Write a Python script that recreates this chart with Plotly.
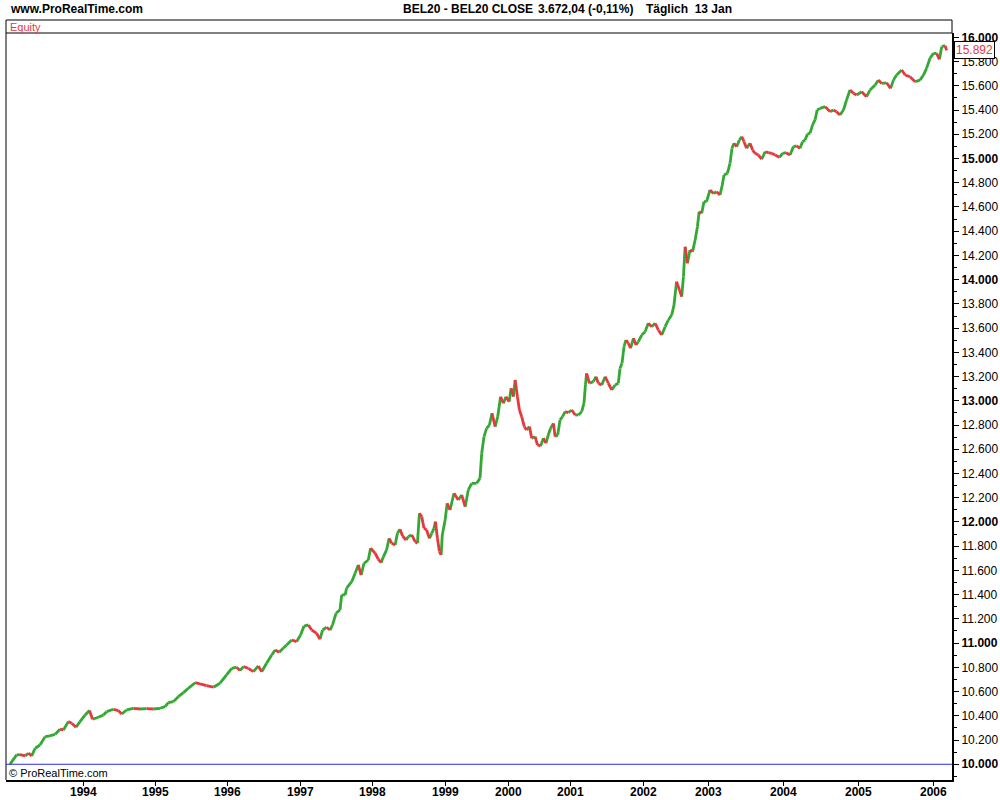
import plotly.graph_objects as go

# -----------------------------
# Daten: Equity-Kurve (Handelstag-Nr. seit Start, Kontostand)
# -----------------------------
handelstag = [
    0, 23, 35, 53, 64, 76, 88, 105, 123, 140, 158, 175, 187, 204, 216, 231, 245, 263, 278, 289,
    309, 327, 338, 362, 379, 391, 408, 432, 455, 478, 502, 525, 543, 554, 572, 589, 607, 624, 648, 665,
    688, 712, 735, 758, 776, 793, 805, 817, 834, 852, 869, 881, 898, 916, 928, 942, 957, 968, 986, 1003,
    1017, 1029, 1044, 1056, 1073, 1085, 1094, 1108, 1120, 1129, 1141, 1155, 1161, 1173, 1178, 1196, 1208, 1219, 1229, 1239,
    1254, 1262, 1278, 1289, 1299, 1307, 1318, 1327, 1336, 1348, 1356, 1365, 1374, 1386, 1394, 1406, 1418, 1426, 1433, 1441,
    1449, 1458, 1468, 1476, 1484, 1489, 1496, 1503, 1509, 1513, 1523, 1530, 1540, 1554, 1569, 1581, 1593, 1604, 1616, 1633,
    1645, 1651, 1659, 1668, 1678, 1687, 1698, 1707, 1717, 1727, 1736, 1747, 1754, 1762, 1768, 1776, 1783, 1791, 1800, 1808,
    1818, 1826, 1838, 1846, 1857, 1867, 1876, 1884, 1892, 1902, 1908, 1917, 1925, 1934, 1943, 1954, 1966, 1978, 1989, 2001,
    2009, 2014, 2018, 2028, 2042, 2051, 2059, 2071, 2083, 2094, 2106, 2118, 2129, 2135, 2142, 2149, 2156, 2164, 2172, 2182,
    2191, 2199, 2211, 2223, 2234, 2246, 2258, 2269, 2281, 2293, 2304, 2316, 2324, 2333, 2343, 2351, 2357, 2363, 2371, 2380,
    2389, 2398, 2406, 2412, 2421, 2429, 2438, 2450, 2462, 2473, 2485, 2493, 2499, 2511, 2520, 2527, 2534, 2543, 2553, 2561,
    2569, 2578, 2590, 2599, 2608, 2619, 2631, 2643, 2654, 2666, 2678, 2693, 2704, 2716, 2730, 2742, 2753, 2765, 2774, 2783,
    2791, 2800, 2809, 2818, 2825, 2835, 2853, 2870, 2882, 2893, 2905, 2917, 2928, 2940, 2952, 2963, 2981, 2998, 3010, 3028,
    3039, 3051, 3068, 3082, 3092, 3103, 3121, 3133, 3150, 3168, 3185, 3197, 3208, 3220, 3232, 3243, 3253, 3261, 3273, 3278,
]
equity = [
    10000, 10077, 10080, 10069, 10091, 10069, 10132, 10159, 10228, 10234, 10248, 10289, 10283, 10352, 10338, 10305, 10352, 10407, 10443, 10371,
    10388, 10407, 10434, 10454, 10443, 10415, 10448, 10462, 10456, 10459, 10456, 10462, 10475, 10508, 10517, 10558, 10591, 10627, 10673, 10663,
    10649, 10636, 10669, 10737, 10792, 10801, 10773, 10806, 10792, 10764, 10811, 10764, 10834, 10902, 10943, 10925, 10960, 10985, 11026, 11012,
    11067, 11141, 11150, 11108, 11081, 11032, 11108, 11131, 11108, 11150, 11246, 11274, 11398, 11398, 11453, 11507, 11577, 11645, 11562, 11659,
    11686, 11783, 11742, 11692, 11664, 11714, 11769, 11865, 11824, 11810, 11906, 11940, 11884, 11851, 11879, 11893, 11837, 11824, 12072, 12044,
    11948, 11934, 11865, 11906, 11948, 12003, 11865, 11755, 11728, 11893, 12016, 12154, 12099, 12237, 12182, 12223, 12126, 12264, 12319, 12319,
    12360, 12567, 12704, 12773, 12800, 12897, 12787, 12869, 13034, 12980, 13034, 12993, 13103, 13034, 13172, 13034, 12924, 12869, 12787, 12759,
    12787, 12691, 12704, 12636, 12627, 12691, 12650, 12718, 12773, 12814, 12704, 12718, 12842, 12869, 12910, 12902, 12924, 12883, 12883, 12910,
    12980, 13131, 13227, 13145, 13158, 13199, 13145, 13131, 13199, 13145, 13090, 13131, 13145, 13268, 13309, 13447, 13502, 13475, 13434, 13516,
    13461, 13488, 13543, 13571, 13640, 13612, 13640, 13585, 13543, 13612, 13667, 13708, 13791, 13983, 13915, 13860, 14025, 14272, 14135, 14245,
    14231, 14327, 14437, 14561, 14548, 14644, 14644, 14740, 14712, 14726, 14699, 14781, 14864, 14878, 14960, 15084, 15126, 15098, 15153, 15180,
    15139, 15084, 15126, 15070, 15043, 15029, 14994, 15056, 15048, 15043, 15029, 15010, 15043, 15048, 15029, 15098, 15104, 15084, 15139, 15153,
    15203, 15208, 15277, 15320, 15400, 15414, 15428, 15387, 15400, 15387, 15359, 15400, 15483, 15565, 15538, 15524, 15551, 15510, 15565, 15606,
    15647, 15620, 15625, 15579, 15647, 15689, 15730, 15689, 15675, 15634, 15647, 15689, 15744, 15827, 15868, 15868, 15819, 15923, 15931, 15892,
]

# Jahresbeginn (Handelstag-Nr.) und Beschriftung
jahre = ["1994", "1995", "1996", "1997", "1998", "1999", "2000", "2001", "2002", "2003", "2004", "2005", "2006"]
jahr_start = [256, 508, 760, 1015, 1267, 1523, 1743, 1960, 2216, 2443, 2706, 2968, 3231]

y_ticks = list(range(10000, 16001, 200))
startkapital = 10000

GRUEN = "#33a833"
ROT = "#e8383f"
FONT = "Arial, Liberation Sans, sans-serif"

# Plotbereich in Pixeln (fuer Beschriftungen ausserhalb)
L, R, T, B = 6, 48, 33, 20
W, H = 1000, 800
PW, PH = W - L - R, H - T - B


def px_x(p):
    return (p - L) / PW


def px_y(p):
    return (H - B - p) / PH


# -----------------------------
# Segmente: gruen = Anstieg, rot = Rueckgang
# -----------------------------
gx, gy, rx, ry = [], [], [], []
for i in range(1, len(equity)):
    sx = [handelstag[i - 1], handelstag[i], None]
    sy = [equity[i - 1], equity[i], None]
    if equity[i] >= equity[i - 1]:
        gx += sx
        gy += sy
    else:
        rx += sx
        ry += sy

fig = go.Figure()
fig.add_trace(go.Scatter(x=gx, y=gy, mode="lines", line=dict(color=GRUEN, width=2.8),
                         connectgaps=False, hoverinfo="skip", showlegend=False))
fig.add_trace(go.Scatter(x=rx, y=ry, mode="lines", line=dict(color=ROT, width=2.8),
                         connectgaps=False, hoverinfo="skip", showlegend=False))

tick_text = []
for v in y_ticks:
    s = f"{v:,}".replace(",", ".")
    tick_text.append(f"<b>{s}</b>" if v % 1000 == 0 else s)

annotations = [
    dict(text="<b>www.ProRealTime.com</b>", xref="paper", yref="paper", x=px_x(8), y=px_y(9),
         xanchor="left", yanchor="middle", showarrow=False, font=dict(size=12)),
    dict(text="<b>BEL20 - BEL20 CLOSE</b>", xref="paper", yref="paper", x=px_x(401), y=px_y(9),
         xanchor="left", yanchor="middle", showarrow=False, font=dict(size=12)),
    dict(text="<b>3.672,04 (-0,11%)</b>", xref="paper", yref="paper", x=px_x(536), y=px_y(9),
         xanchor="left", yanchor="middle", showarrow=False, font=dict(size=12)),
    dict(text="<b>Täglich&nbsp;&nbsp;13 Jan</b>", xref="paper", yref="paper", x=px_x(644), y=px_y(9),
         xanchor="left", yanchor="middle", showarrow=False, font=dict(size=12)),
    dict(text="Equity", xref="paper", yref="paper", x=px_x(8), y=px_y(27),
         xanchor="left", yanchor="middle", showarrow=False, font=dict(size=11, color=ROT)),
    dict(text="© ProRealTime.com", xref="paper", yref="paper", x=px_x(7), y=px_y(773),
         xanchor="left", yanchor="middle", showarrow=False, font=dict(size=11)),
    dict(text=f"{equity[-1]:,}".replace(",", "."), xref="paper", yref="y", x=px_x(954), y=equity[-1],
         xanchor="left", yanchor="middle", showarrow=False, font=dict(size=12, color=ROT),
         bgcolor="white", bordercolor="black", borderwidth=1, borderpad=1),
]
# Jahresbeschriftung unter der Zeitachse
for pos, j in zip(jahr_start, jahre):
    annotations.append(dict(text=f"<b>{j}</b>", xref="x", yref="paper", x=pos, y=px_y(792),
                            xanchor="center", yanchor="middle", showarrow=False, font=dict(size=12)))

fig.update_layout(
    width=W, height=H,
    margin=dict(l=L, r=R, t=T, b=B, autoexpand=False),
    paper_bgcolor="white", plot_bgcolor="white",
    font=dict(family=FONT, size=12, color="black"),
    xaxis=dict(
        range=[-14, 3297], tickmode="array", tickvals=jahr_start, showticklabels=False,
        ticks="outside", ticklen=4, tickwidth=1, tickcolor="black",
        showline=True, linewidth=2, linecolor="black", automargin=False,
        showgrid=False, zeroline=False,
    ),
    yaxis=dict(
        side="right", range=[9870, 16036], tickmode="array", tickvals=y_ticks, ticktext=tick_text,
        ticks="outside", ticklen=5, tickwidth=1, tickcolor="black",
        minor=dict(ticks="outside", ticklen=3, dtick=100, tick0=0, tickcolor="black"),
        showline=True, linewidth=2, linecolor="black", automargin=False,
        showgrid=False, zeroline=False, tickfont=dict(size=12),
    ),
    shapes=[
        # Kopfzeile "Equity"
        dict(type="rect", xref="paper", yref="paper", x0=0, x1=1, y0=1, y1=px_y(20),
             line=dict(color="black", width=1)),
        dict(type="line", xref="paper", yref="paper", x0=0, x1=0, y0=0, y1=1,
             line=dict(color="black", width=1)),
        # Startkapital-Linie
        dict(type="line", xref="paper", yref="y", x0=0, x1=1, y0=startkapital, y1=startkapital,
             line=dict(color="#2a2ae6", width=1)),
    ],
    annotations=annotations,
)

# Seitenrand des Browsers entfernen, damit die Grafik bei (0,0) beginnt
fig.write_html("out.html", config={"displayModeBar": False},
               post_script="document.body.style.margin='0';")
